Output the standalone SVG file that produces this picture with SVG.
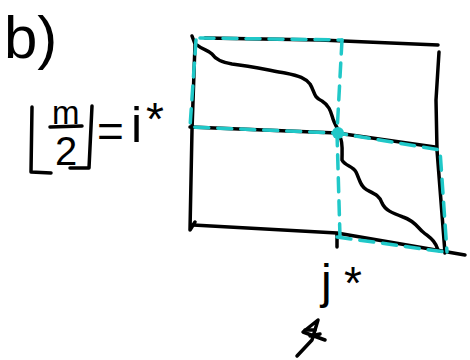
<svg xmlns="http://www.w3.org/2000/svg" width="470" height="360" viewBox="0 0 470 360">
<style>
.ink{fill:none;stroke:#000;stroke-width:3.5;stroke-linecap:round;stroke-linejoin:round}
.cy{fill:none;stroke:#20c8c8;stroke-width:3.5;stroke-linecap:round;stroke-dasharray:14 9}
.t{font-family:"Liberation Sans",sans-serif;fill:#000}
</style>
<rect width="470" height="360" fill="#fff"/>
<g id="label-b"><text class="t" x="4" y="58" font-size="60">b)</text></g>
<g id="formula">
<polyline class="ink" points="32,107 31,172 51,173"/>
<polyline class="ink" points="92,106 89,168 70,168"/>
<line class="ink" x1="50" y1="127" x2="82" y2="126"/>
<text class="t" x="52" y="124" font-size="33">m</text>
<text class="t" x="55" y="165" font-size="40">2</text>
<text class="t" x="97" y="147" font-size="46">=</text>
<text class="t" x="131" y="142" font-size="50">i</text>
<text class="t" x="146" y="135" font-size="46">*</text>
</g>
<g id="connectors">
<path class="ink" d="M205,38 L320,40 L438,45"/>
<path class="ink" d="M192,36 L195,44 L192,130 L190,230 L195,222"/>
<path class="ink" d="M439,52 L436,100 L437,150 L445,253"/>
<path class="ink" d="M190,127 L337,133 L435,147"/>
<path class="ink" d="M193,225 L337,233 L465,255"/>
<path class="ink" d="M337,234 L337,247"/>
<path class="ink" d="M197,45 C203,50 208,50 212,54 C216,60 222,62 232,64 C250,66 268,70 285,73 C300,76 305,78 310,84 C315,92 313,97 322,101 C330,106 331,113 333,119 C335,125 337,127 338,130"/>
<path class="ink" d="M340,137 C343,141 342,150 342,160 C345,166 353,166 356,172 C360,180 360,186 367,190 C375,194 380,196 382,203 C385,210 392,213 403,217 C415,221 418,228 423,232 C430,238 435,240 438,250"/>
<path class="cy" d="M200,38 L342,40"/>
<path class="cy" d="M196,40 L190,127 L337,133 L440,150 L447,252"/>
<path class="cy" d="M342,40 L337,133 L340,237"/>
<path class="cy" d="M337,237 L445,252"/>
<circle cx="338" cy="133" r="6" fill="#20c8c8"/>
</g>
<g id="label-j">
<text class="t" x="321" y="298" font-size="48">j</text>
<text class="t" x="344" y="299" font-size="46">*</text>
</g>
<g id="arrow-mark">
<path class="ink" d="M297,356 L312,340 L318,320 L303,332 L325,340"/>
<path class="ink" d="M305,330 L315,330 M310,336 L320,334"/>
</g>
</svg>
